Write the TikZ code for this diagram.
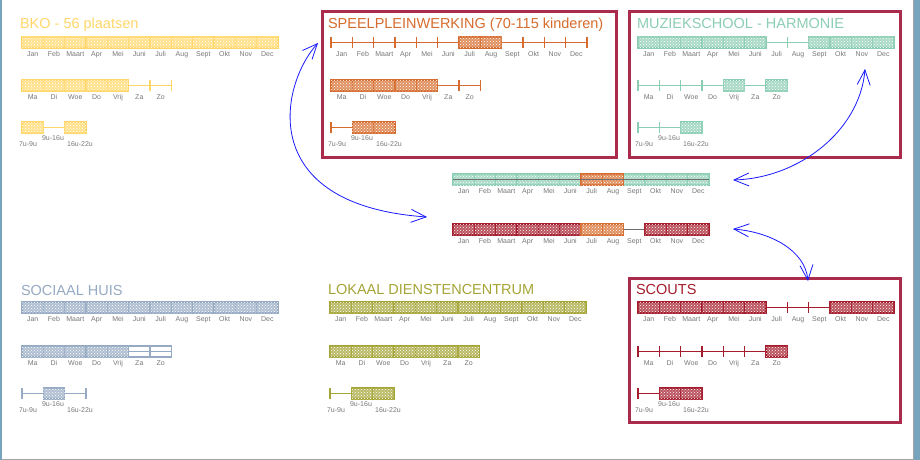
\documentclass[tikz,border=0pt]{standalone}
\usepackage{fontspec}
\setmainfont{Liberation Sans}
\usetikzlibrary{patterns,arrows.meta}

\begin{document}
\begin{tikzpicture}[x=1pt,y=-1pt,line cap=rect,
    frame/.style={draw=custcol_frame, line width=3pt},
    cell/.style={draw=#1, line width=1.2pt, fill=#1!75!white, postaction={pattern=crosshatch dots, pattern color=white}},
    emptycell/.style={draw=#1, line width=1.2pt},
    axis/.style={draw=#1, line width=1.2pt, line cap=butt},
    title/.style={inner sep=0, outer sep=0, anchor=base west, font=\fontsize{14.5pt}{14.5pt}\selectfont},
    lbl/.style={inner sep=0, outer sep=0, anchor=base, text=custcol_label, font=\fontsize{7pt}{7pt}\selectfont},
    link/.style={custcol_link, line width=0.8pt, {Straight Barb[length=15pt,width=13pt]}-{Straight Barb[length=15pt,width=13pt]}}]
  \definecolor{custcol_bko}{RGB}{255, 215, 105}
  \definecolor{custcol_spw}{RGB}{214, 108, 45}
  \definecolor{custcol_muz}{RGB}{140, 206, 180}
  \definecolor{custcol_scouts}{RGB}{165, 28, 45}
  \definecolor{custcol_sociaal}{RGB}{150, 170, 195}
  \definecolor{custcol_lokaal}{RGB}{165, 165, 55}
  \definecolor{custcol_frame}{RGB}{171, 43, 76}
  \definecolor{custcol_label}{RGB}{120, 120, 120}
  \definecolor{custcol_grey}{RGB}{110, 110, 110}
  \definecolor{custcol_link}{RGB}{25, 25, 255}
  \definecolor{custcol_edge}{RGB}{120, 165, 190}
  \definecolor{custcol_rim}{RGB}{165, 165, 165}
  % one bar: name, x, y, number of cells, colour, filled cells, empty cells (0 = none)
  \def\timebar#1#2#3#4#5#6#7{%
    \coordinate (#1) at (#2,#3);
    \draw[axis=#5] (#2,#3+5.5) -- (#2+#4*21.33,#3+5.5);
    \foreach \i in {0,...,#4}
      \draw[axis=#5] (#2+\i*21.33,#3) -- (#2+\i*21.33,#3+11);
    \foreach \i in {#6}{\ifnum\i>0 \path[cell=#5] (#2+\i*21.33-21.33,#3) rectangle ++(21.33,11);\fi}
    \foreach \i in {#7}{\ifnum\i>0 \path[emptycell=#5] (#2+\i*21.33-21.33,#3) rectangle ++(21.33,11);\fi}
  }
  \def\monthlabels#1#2#3{%
    \foreach \m [count=\i] in {Jan,Feb,Maart,Apr,Mei,Juni,Juli,Aug,Sept,Okt,Nov,Dec}
      \node[lbl] (#1-\i) at (#2+\i*21.33-10.67,#3+19.5) {\m};
  }
  \def\daylabels#1#2#3{%
    \foreach \m [count=\i] in {Ma,Di,Woe,Do,Vrij,Za,Zo}
      \node[lbl] (#1-\i) at (#2+\i*21.33-10.67,#3+19.5) {\m};
  }
  \def\hourlabels#1#2#3{%
    \node[lbl] (#1-a) at (#2+6,#3+24.5) {7u-9u};
    \node[lbl] (#1-b) at (#2+31,#3+18.5) {9u-16u};
    \node[lbl] (#1-c) at (#2+58,#3+24.5) {16u-22u};
  }
  \useasboundingbox (0,0) rectangle (920,460);
  \fill[white] (0,0) rectangle (920,460);
  \fill[custcol_edge] (914,0) rectangle (920,460);
  \draw[custcol_edge, line width=2pt] (1,0) -- (1,460);
  \draw[custcol_rim, line width=1pt] (913.5,0) -- (913.5,459) -- (2,459);

  % BKO
  \node[title, custcol_bko] (bko) at (20,29) {BKO - 56 plaatsen};
  \timebar{bko-m}{22}{37}{12}{custcol_bko}{1,...,12}{0}
  \monthlabels{bko-ml}{22}{37}
  \timebar{bko-d}{22}{80}{7}{custcol_bko}{1,...,5}{0}
  \daylabels{bko-dl}{22}{80}
  \timebar{bko-u}{22}{122}{3}{custcol_bko}{1,3}{0}
  \hourlabels{bko-ul}{22}{122}

  % speelpleinwerking
  \draw[frame] (322,12) rectangle (616,157);
  \node[title, custcol_spw] (spw) at (328,29) {SPEELPLEINWERKING (70-115 kinderen)};
  \timebar{spw-m}{331}{37}{12}{custcol_spw}{7,8}{0}
  \monthlabels{spw-ml}{331}{37}
  \timebar{spw-d}{331}{80}{7}{custcol_spw}{1,...,5}{0}
  \daylabels{spw-dl}{331}{80}
  \timebar{spw-u}{331}{122}{3}{custcol_spw}{2,3}{0}
  \hourlabels{spw-ul}{331}{122}

  % muziekschool
  \draw[frame] (629,12) rectangle (900,157);
  \node[title, custcol_muz] (muz) at (637,29) {MUZIEKSCHOOL - HARMONIE};
  \timebar{muz-m}{638}{37}{12}{custcol_muz}{1,2,3,4,5,6,9,10,11,12}{0}
  \monthlabels{muz-ml}{638}{37}
  \timebar{muz-d}{638}{80}{7}{custcol_muz}{5,7}{0}
  \daylabels{muz-dl}{638}{80}
  \timebar{muz-u}{638}{122}{3}{custcol_muz}{3}{0}
  \hourlabels{muz-ul}{638}{122}

  % samen
  \timebar{sum-top}{453}{174}{12}{custcol_grey}{0}{0}
  \foreach \i in {1,2,3,4,5,6,9,10,11,12}
    \path[cell=custcol_muz] (453+\i*21.33-21.33,174) rectangle ++(21.33,11);
  \foreach \i in {7,8}
    \path[cell=custcol_spw] (453+\i*21.33-21.33,174) rectangle ++(21.33,11);
  \draw[custcol_grey, line width=0.8pt] (453,179.5) -- (709,179.5);
  \monthlabels{sum-top-l}{453}{174}
  \timebar{sum-bot}{453}{224}{12}{custcol_grey}{0}{0}
  \foreach \i in {1,2,3,4,5,6,10,11,12}
    \path[cell=custcol_scouts] (453+\i*21.33-21.33,224) rectangle ++(21.33,11);
  \foreach \i in {7,8}
    \path[cell=custcol_spw] (453+\i*21.33-21.33,224) rectangle ++(21.33,11);
  \monthlabels{sum-bot-l}{453}{224}

  % sociaal huis
  \node[title, custcol_sociaal] (soc) at (21,295) {SOCIAAL HUIS};
  \timebar{soc-m}{22}{302}{12}{custcol_sociaal}{1,...,12}{0}
  \monthlabels{soc-ml}{22}{302}
  \timebar{soc-d}{22}{346}{7}{custcol_sociaal}{1,...,5}{6,7}
  \daylabels{soc-dl}{22}{346}
  \timebar{soc-u}{22}{388}{3}{custcol_sociaal}{2}{0}
  \hourlabels{soc-ul}{22}{388}

  % lokaal dienstencentrum
  \node[title, custcol_lokaal] (ldc) at (328,294) {LOKAAL DIENSTENCENTRUM};
  \timebar{ldc-m}{330}{302}{12}{custcol_lokaal}{1,...,12}{0}
  \monthlabels{ldc-ml}{330}{302}
  \timebar{ldc-d}{330}{346}{7}{custcol_lokaal}{1,...,7}{0}
  \daylabels{ldc-dl}{330}{346}
  \timebar{ldc-u}{330}{388}{3}{custcol_lokaal}{2,3}{0}
  \hourlabels{ldc-ul}{330}{388}

  % scouts
  \draw[frame] (629,278) rectangle (900,422);
  \node[title, custcol_scouts] (sct) at (636,294) {SCOUTS};
  \timebar{sct-m}{638}{302}{12}{custcol_scouts}{1,2,3,4,5,6,10,11,12}{0}
  \monthlabels{sct-ml}{638}{302}
  \timebar{sct-d}{638}{346}{7}{custcol_scouts}{7}{0}
  \daylabels{sct-dl}{638}{346}
  \timebar{sct-u}{638}{388}{3}{custcol_scouts}{2,3}{0}
  \hourlabels{sct-ul}{638}{388}

  % pijlen
  \coordinate (spw-tip) at (318,43);
  \coordinate (mid-tip) at (427,217);
  \coordinate (muz-tip) at (865,69);
  \coordinate (sum-top-tip) at (733,180);
  \coordinate (sum-bot-tip) at (733,229);
  \coordinate (sct-tip) at (808,281);
  \draw[link] (spw-tip) .. controls (280,85) and (255,205) .. (mid-tip);
  \draw[link] (sum-top-tip) .. controls (800,178) and (860,130) .. (muz-tip);
  \draw[link] (sum-bot-tip) .. controls (770,232) and (805,250) .. (sct-tip);
\end{tikzpicture}
\end{document}
